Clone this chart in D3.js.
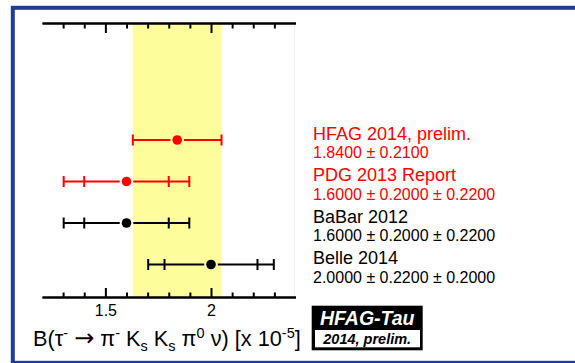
<!DOCTYPE html>
<html>
<head>
<meta charset="utf-8">
<script src="https://cdn.jsdelivr.net/npm/d3@7"></script>
<style>
  body { margin: 0; background: #fff; }
  svg { display: block; font-family: "Liberation Sans", Arial, sans-serif; }
</style>
</head>
<body>
<svg id="chart" width="575" height="363"></svg>
<script>
// measurements, top to bottom
const names = ["HFAG 2014, prelim.", "PDG 2013 Report", "BaBar 2012", "Belle 2014"]
const values = [1.84, 1.60, 1.60, 2.00]
const statErr = [0.21, 0.20, 0.20, 0.22]
const systErr = [0, 0.22, 0.22, 0.20]
const valueLabels = ["1.8400 \u00b1 0.2100", "1.6000 \u00b1 0.2000 \u00b1 0.2200",
  "1.6000 \u00b1 0.2000 \u00b1 0.2200", "2.0000 \u00b1 0.2200 \u00b1 0.2000"]
const colors = ["#ff0000", "#ff0000", "#000000", "#000000"]
const majorTicks = [1.5, 2]
const minorTicks = [1.3, 1.4, 1.6, 1.7, 1.8, 1.9, 2.1, 2.2, 2.3]
const xDomain = [1.2, 2.4]

const FONT = "'Liberation Sans', Arial, sans-serif"

const rows = names.map((n, i) => ({
  name: n, value: values[i], stat: statErr[i],
  total: Math.sqrt(statErr[i] ** 2 + systErr[i] ** 2),
  label: valueLabels[i], color: colors[i], hasSyst: systErr[i] > 0
}))

const svg = d3.select("#chart")

const x = d3.scaleLinear().domain(xDomain).range([42, 295.5])
const y = d3.scalePoint().domain(names).range([140, 264.5])
const yTop = 23, yBot = 297

// blue frame
svg.append("rect")
  .attr("x", 12.8).attr("y", 7.8)
  .attr("width", 620).attr("height", 355)
  .attr("fill", "none")
  .attr("stroke", "#233d8e")
  .attr("stroke-width", 4)

// average band
const avg = rows[0]
svg.append("rect")
  .attr("x", x(avg.value - avg.stat))
  .attr("y", yTop)
  .attr("width", x(avg.value + avg.stat) - x(avg.value - avg.stat))
  .attr("height", yBot - yTop)
  .attr("fill", "#fdfd9c")

// faint right edge of plot area
svg.append("line")
  .attr("x1", x(xDomain[1]) - 1).attr("x2", x(xDomain[1]) - 1)
  .attr("y1", yTop).attr("y2", yBot)
  .attr("stroke", "#eeeeee")

const styleAxis = g => {
  g.select(".domain").attr("stroke-width", 2)
  g.selectAll(".tick line").attr("stroke-width", 2)
}

// top axis, ticks hang down
svg.append("g")
  .attr("transform", `translate(0,${yTop})`)
  .call(d3.axisTop(x).tickValues(minorTicks).tickSize(-5.5).tickSizeOuter(0).tickFormat(""))
  .call(styleAxis)
svg.append("g")
  .attr("transform", `translate(0,${yTop})`)
  .call(d3.axisTop(x).tickValues(majorTicks).tickSize(-10).tickSizeOuter(0).tickFormat(""))
  .call(styleAxis)

// bottom axis, ticks point up
svg.append("g")
  .attr("transform", `translate(0,${yBot})`)
  .call(d3.axisBottom(x).tickValues(minorTicks).tickSize(-4.5).tickSizeOuter(0).tickFormat(""))
  .call(styleAxis)
svg.append("g")
  .attr("transform", `translate(0,${yBot})`)
  .call(d3.axisBottom(x).tickValues(majorTicks).tickSize(-9).tickSizeOuter(0).tickPadding(8)
    .tickFormat(d3.format("")))
  .call(styleAxis)
  .call(g => g.attr("font-family", FONT).attr("font-size", 16))
  .call(g => g.selectAll("text").attr("fill", "#000"))

// error bars
const r = 4.8, gap = 2, capH = 5.5
const bars = svg.append("g").selectAll("g")
  .data(rows)
  .join("g")
  .attr("stroke", d => d.color)
  .attr("fill", d => d.color)
  .attr("stroke-width", 2)

bars.append("line")
  .attr("x1", d => x(d.value - d.total)).attr("x2", d => x(d.value) - r - gap)
  .attr("y1", d => y(d.name)).attr("y2", d => y(d.name))
bars.append("line")
  .attr("x1", d => x(d.value) + r + gap).attr("x2", d => x(d.value + d.total))
  .attr("y1", d => y(d.name)).attr("y2", d => y(d.name))

bars.selectAll(".cap")
  .data(d => {
    const caps = [d.value - d.total, d.value + d.total]
    if (d.hasSyst) caps.push(d.value - d.stat, d.value + d.stat)
    return caps.map(v => ({ v, yy: y(d.name) }))
  })
  .join("line")
  .attr("class", "cap")
  .attr("x1", c => x(c.v)).attr("x2", c => x(c.v))
  .attr("y1", c => c.yy - capH).attr("y2", c => c.yy + capH)

bars.append("circle")
  .attr("cx", d => x(d.value))
  .attr("cy", d => y(d.name))
  .attr("r", r)
  .attr("stroke", "none")

// legend text
const labels = svg.append("g").selectAll("g")
  .data(rows)
  .join("g")
  .attr("fill", d => d.color)
  .attr("font-family", FONT)
labels.append("text")
  .attr("x", 313).attr("y", d => y(d.name) - 0.5)
  .attr("font-size", 18)
  .text(d => d.name)
labels.append("text")
  .attr("x", 313).attr("y", d => y(d.name) + 18)
  .attr("font-size", 16)
  .text(d => d.label)

// x-axis title
const title = svg.append("text")
  .attr("x", 33).attr("y", 346)
  .attr("font-size", 21.7)
  .attr("font-family", FONT)
  .attr("fill", "#000")
const parts = [
  ["B(\u03c4", 0], ["-", -1], [" ", 0], ["\u2192", 2], [" \u03c0", 0], ["-", -1], [" K", 0], ["s", 1],
  [" K", 0], ["s", 1], [" \u03c0", 0], ["0", -1], [" \u03bd) [x 10", 0], ["-5", -1], ["]", 0]
]
let shift = 0
parts.forEach(([t, s]) => {
  const off = s === -1 ? -8 : s === 1 ? 5 : 0
  const ts = title.append("tspan")
    .attr("dy", off - shift)
    .attr("font-size", s === 0 ? 21.7 : s === 2 ? 24 : 14.5)
    .text(t)
  if (s === 2) ts.attr("font-family", "'DejaVu Sans', sans-serif")
  shift = off
})

// HFAG-Tau logo
const logo = svg.append("g").attr("font-family", FONT)
logo.append("rect")
  .attr("x", 311.7).attr("y", 305.7).attr("width", 111).attr("height", 44.6)
  .attr("fill", "#000")
logo.append("rect")
  .attr("x", 315).attr("y", 330).attr("width", 105).attr("height", 17.3)
  .attr("fill", "#fff")
logo.append("text")
  .attr("x", 367.2).attr("y", 325)
  .attr("text-anchor", "middle")
  .attr("font-size", 19.5).attr("font-weight", "bold").attr("font-style", "italic")
  .attr("fill", "#fff")
  .text("HFAG-Tau")
logo.append("text")
  .attr("x", 367.2).attr("y", 344.3)
  .attr("text-anchor", "middle")
  .attr("font-size", 14.5).attr("font-weight", "bold").attr("font-style", "italic")
  .attr("fill", "#000")
  .text("2014, prelim.")
</script>
</body>
</html>
